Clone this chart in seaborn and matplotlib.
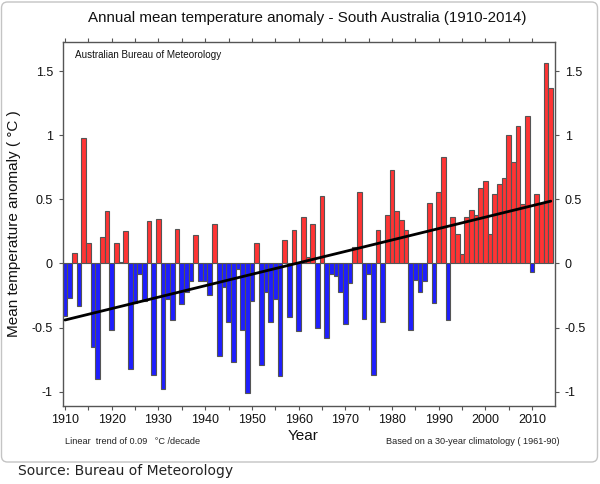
import numpy as np
import pandas as pd
import matplotlib
matplotlib.use('Agg')
import matplotlib.pyplot as plt
import seaborn as sns
from matplotlib import font_manager
from matplotlib.patches import FancyBboxPatch
from matplotlib.transforms import IdentityTransform
from matplotlib.ticker import MultipleLocator, FuncFormatter

years = list(range(1910, 2015))
anomaly = [
    -0.41, -0.27, 0.08, -0.33, 0.98, 0.16, -0.65, -0.90, 0.21, 0.41,   # 1910-1919
    -0.52, 0.16, 0.01, 0.25, -0.82, -0.31, -0.08, -0.29, 0.33, -0.87,  # 1920-1929
    0.35, -0.98, -0.28, -0.44, 0.27, -0.32, -0.22, -0.14, 0.22, -0.14, # 1930-1939
    -0.14, -0.25, 0.31, -0.72, -0.18, -0.46, -0.77, -0.04, -0.52, -1.01, # 1940-1949
    -0.29, 0.16, -0.79, -0.22, -0.46, -0.28, -0.88, 0.18, -0.42, 0.26, # 1950-1959
    -0.53, 0.36, 0.05, 0.31, -0.50, 0.53, -0.58, -0.08, -0.10, -0.22,  # 1960-1969
    -0.47, -0.15, 0.13, 0.56, -0.43, -0.08, -0.87, 0.26, -0.46, 0.38,  # 1970-1979
    0.73, 0.41, 0.34, 0.26, -0.52, -0.13, -0.22, -0.14, 0.47, -0.31,   # 1980-1989
    0.56, 0.83, -0.44, 0.36, 0.23, 0.07, 0.36, 0.42, 0.38, 0.59,       # 1990-1999
    0.64, 0.23, 0.54, 0.62, 0.67, 1.00, 0.79, 1.07, 0.46, 1.15,        # 2000-2009
    -0.07, 0.54, 0.47, 1.56, 1.37,                                     # 2010-2014
]
y_ticks = [-1, -0.5, 0, 0.5, 1, 1.5]

title = 'Annual mean temperature anomaly - South Australia (1910-2014)'
ylabel = 'Mean temperature anomaly ( °C )'
xlabel = 'Year'
inner_note = 'Australian Bureau of Meteorology'
trend_note = 'Linear  trend of 0.09   °C /decade'
clim_note = 'Based on a 30-year climatology ( 1961-90)'
source = 'Source: Bureau of Meteorology'

sns.set_style('white')
available = {f.name for f in font_manager.fontManager.ttflist}
narrow = 'Liberation Sans Narrow' if 'Liberation Sans Narrow' in available else 'Liberation Sans'
plt.rcParams['font.family'] = ['Liberation Sans', 'DejaVu Sans']
plt.rcParams['axes.unicode_minus'] = False

W, H = 600, 484
fig = plt.figure(figsize=(W / 100, H / 100), dpi=100)
fig.patch.set_facecolor('white')

ax_l, ax_r, ax_t, ax_b = 62.7, 555.0, 41.7, 405.7
ax = fig.add_axes([ax_l / W, 1 - ax_b / H, (ax_r - ax_l) / W, (ax_b - ax_t) / H])

df = pd.DataFrame({'year': years, 'anomaly': anomaly})
df['sign'] = np.where(df['anomaly'] >= 0, 'warm', 'cool')
sns.barplot(data=df, x='year', y='anomaly', hue='sign',
            palette={'warm': '#ff3434', 'cool': '#1e1eff'},
            native_scale=True, width=1.0, dodge=False, saturation=1,
            edgecolor='#555555', linewidth=0.8, errorbar=None,
            legend=False, ax=ax, zorder=2)

coef = np.polyfit(years, anomaly, 1)
ax.plot(years, np.polyval(coef, years), color='black', lw=2.0, zorder=3)

ax.set_xlim(1909.5, 2014.9)
ax.set_ylim(-1.11, 1.73)
ax.xaxis.set_major_locator(MultipleLocator(10))
ax.xaxis.set_minor_locator(MultipleLocator(5))
ax.set_yticks(y_ticks)
ax.yaxis.set_major_formatter(FuncFormatter(lambda v, p: f'{v:g}'))
ax.xaxis.set_major_formatter(FuncFormatter(lambda v, p: f'{int(v)}'))
ax.tick_params(axis='x', which='both', bottom=True, top=True, direction='out',
               length=3, width=0.8, color='#555555', labelsize=9, labelcolor='#111111', pad=3)
ax.tick_params(axis='y', which='both', left=True, right=True, labelleft=True, labelright=True,
               direction='out', length=3, width=0.8, color='#555555', labelsize=9,
               labelcolor='#111111', pad=4)
for s in ax.spines.values():
    s.set_color('#555555')
    s.set_linewidth(1.0)
    s.set_visible(True)

ax.set_xlabel('')
ax.set_ylabel(ylabel, fontsize=11, color='#111111')
ax.yaxis.set_label_coords((21 - ax_l) / (ax_r - ax_l), 0.5)

fig.text(307 / W, 1 - 18 / H, title, ha='center', va='center', fontsize=10.9,
         family=narrow, color='#111111')
fig.text(303 / W, 1 - 436 / H, xlabel, ha='center', va='center', fontsize=11, color='#111111')
fig.text(75 / W, 1 - 55 / H, inner_note, ha='left', va='center', fontsize=7.1,
         family=narrow, color='#111111')
fig.text(65 / W, 1 - 442 / H, trend_note, ha='left', va='center', fontsize=6.6,
         family=narrow, color='#222222')
fig.text(559 / W, 1 - 442 / H, clim_note, ha='right', va='center', fontsize=6.6,
         family=narrow, color='#222222')
fig.text(18 / W, 1 - 471 / H, source, ha='left', va='center', fontsize=10,
         family=['DejaVu Sans'], color='#222222')

box = FancyBboxPatch((1.5, H - 462), 596, 460, boxstyle='round,pad=0,rounding_size=6',
                     transform=IdentityTransform(), facecolor='none',
                     edgecolor='#c4c4c4', linewidth=1.0, zorder=0)
fig.add_artist(box)

fig.savefig('out.png', dpi=100, facecolor='white')
